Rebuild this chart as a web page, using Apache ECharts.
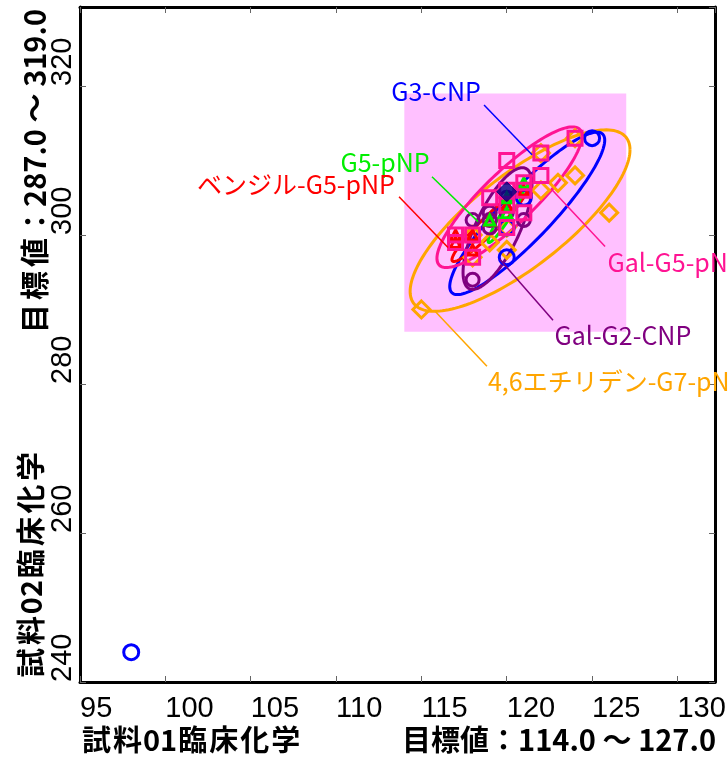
<!DOCTYPE html>
<html>
<head>
<meta charset="utf-8">
<script src="https://cdn.jsdelivr.net/npm/echarts@6/dist/echarts.min.js"></script>
<style>
  html, body { margin: 0; padding: 0; background: #ffffff; }
  #chart { width: 728px; height: 758px; }
</style>
</head>
<body>
<div id="chart"></div>
<script>
// ---- tick labels ----
const xTickValues = [95, 100, 105, 110, 115, 120, 125, 130];
const yTickValues = [240, 260, 280, 300, 320];

// ---- axis titles ----
const xTitleSample = '試料01臨床化学';
const xTitleTarget = '目標値：114.0 ～ 127.0';
const yTitleSample = '試料02臨床化学';
const yTitleTarget = '目標値：287.0 ～ 319.0';

// ---- target range (x from..to, y from..to) ----
const targetX = [114.0, 127.0];
const targetY = [287.0, 319.0];

// ---- reagent names ----
const reagentNames = ['G3-CNP', 'G5-pNP', 'ベンジル-G5-pNP', 'Gal-G5-pNP', 'Gal-G2-CNP', '4,6エチリデン-G7-pNP'];

// ---- measured pairs [sample 01, sample 02] per reagent ----
const g3cnpValues = [[125, 313], [120, 297], [120, 301], [121, 305], [98, 244]];
const g5pnpValues = [[121, 307], [120, 305], [120, 303], [119, 302]];
const benzylG5pnpValues = [[117, 300], [118, 300], [117, 299], [118, 298], [121, 306], [120, 304], [119, 302]];
const galG5pnpValues = [[124, 313], [122, 311], [120, 310], [122, 308], [121, 307], [121, 306], [120, 306],
  [119, 305], [121, 303], [120, 304], [120, 301], [117, 300], [117, 299], [118, 300], [118, 297]];
const galG2cnpValues = [[118, 294], [119, 303], [119, 302], [119, 301], [120, 303], [121, 302], [118, 302], [120, 305]];
const ethylideneG7pnpValues = [[115, 290], [126, 303], [124, 308], [123, 307], [122, 306], [119, 299], [118, 297],
  [120, 298], [124, 313], [122, 311], [118, 300], [120, 301]];
const overallMean = [[120, 305.8]];

// ---- distribution ellipses: [centre x, centre y, half-width x, half-height y, correlation] ----
const g3cnpEllipse = [121.2, 302.9, 4.54, 10.9, 0.90];
const g5pnpEllipse = [119.96, 302.73, 1.05, 3.75, 0.95];
const benzylG5pnpEllipse = [118.99, 301.39, 2.2, 4.95, 0.95];
const galG5pnpEllipse = [120.16, 305.07, 4.25, 9.44, 0.87];
const galG2cnpEllipse = [119.46, 300.86, 2.02, 8.17, 0.72];
const ethylideneG7pnpEllipse = [120.78, 301.93, 6.44, 12.18, 0.78];

// ---- styling per reagent ----
const reagentStyles = [
  { color: '#0000FF', symbol: 'circle', size: 15 },
  { color: '#00EE00', symbol: 'triangle', size: 10 },
  { color: '#FF0000', symbol: 'triangle', size: 10 },
  { color: '#FF1493', symbol: 'rect', size: 14 },
  { color: '#800080', symbol: 'circle', size: 13 },
  { color: '#FFA500', symbol: 'diamond', size: 17 }
];
const reagentValues = [g3cnpValues, g5pnpValues, benzylG5pnpValues, galG5pnpValues, galG2cnpValues, ethylideneG7pnpValues];
const reagentEllipses = [g3cnpEllipse, g5pnpEllipse, benzylG5pnpEllipse, galG5pnpEllipse, galG2cnpEllipse, ethylideneG7pnpEllipse];

// callout placement (in axis units): text anchor, alignment, leader line from -> to
const calloutLayout = [
  { text: [115.86, 319.3], align: 'center', from: [118.67, 317.46], to: [121.48, 310.76] },
  { text: [112.87, 309.7], align: 'center', from: [115.62, 307.82], to: [118.32, 301.79] },
  { text: [107.65, 306.75], align: 'center', from: [113.69, 305.14], to: [116.56, 298.31] },
  { text: [125.9, 296.3], align: 'left', from: [125.76, 298.45], to: [122.65, 306.08] },
  { text: [122.8, 286.5], align: 'left', from: [122.71, 288.54], to: [119.60, 296.71] },
  { text: [118.9, 280.4], align: 'left', from: [118.84, 282.38], to: [115.80, 289.75] }
];

const tickFont = 'Liberation Sans, Arial, sans-serif';
const jpFont = '"Noto Sans CJK JP", sans-serif';

// Builds a rich-text string where CJK characters get a little extra side padding
function spacedTitle(text) {
  let out = '';
  let run = '';
  for (const ch of text) {
    if (/[\u3000-\u9fff\uff00-\uffef]/.test(ch) && ch !== '：' && ch !== '～') {
      if (run) { out += '{n|' + run + '}'; run = ''; }
      out += '{w|' + ch + '}';
    } else {
      run += ch;
    }
  }
  if (run) out += '{n|' + run + '}';
  return out;
}

function titleRich(pad) {
  const f = 'bold 29px ' + jpFont;
  return {
    w: { font: f, fill: '#000', padding: [0, pad, 0, pad] },
    n: { font: f, fill: '#000' }
  };
}

function ellipseSeries(idx, z) {
  const color = reagentStyles[idx].color;
  return {
    type: 'custom',
    name: reagentNames[idx] + ' ellipse',
    coordinateSystem: 'cartesian2d',
    xAxisIndex: 0, yAxisIndex: 0,
    silent: true,
    z: z,
    data: [reagentEllipses[idx]],
    renderItem: function (params, api) {
      const cx = api.value(0), cy = api.value(1), hx = api.value(2), hy = api.value(3), r = api.value(4);
      const phi = Math.acos(r);
      const pts = [];
      const n = 160;
      for (let i = 0; i <= n; i++) {
        const t = (i / n) * Math.PI * 2;
        pts.push(api.coord([cx + hx * Math.cos(t), cy + hy * Math.cos(t - phi)]));
      }
      return {
        type: 'polyline',
        shape: { points: pts },
        style: { fill: 'none', stroke: color, lineWidth: 3 }
      };
    }
  };
}

function pointSeries(idx, z) {
  const st = reagentStyles[idx];
  return {
    type: 'scatter',
    name: reagentNames[idx],
    z: z,
    silent: true,
    symbol: st.symbol,
    symbolSize: st.size,
    itemStyle: { color: 'rgba(0,0,0,0)', borderColor: st.color, borderWidth: 3, opacity: 1 },
    data: reagentValues[idx]
  };
}

function calloutSeries(idx) {
  const st = reagentStyles[idx];
  const lay = calloutLayout[idx];
  return {
    type: 'custom',
    name: reagentNames[idx] + ' label',
    coordinateSystem: 'cartesian2d',
    silent: true,
    z: 20,
    clip: false,
    data: [[lay.text[0], lay.text[1], lay.from[0], lay.from[1], lay.to[0], lay.to[1]]],
    renderItem: function (params, api) {
      const tp = api.coord([api.value(0), api.value(1)]);
      const p1 = api.coord([api.value(2), api.value(3)]);
      const p2 = api.coord([api.value(4), api.value(5)]);
      return {
        type: 'group',
        children: [
          { type: 'line', shape: { x1: p1[0], y1: p1[1], x2: p2[0], y2: p2[1] },
            style: { stroke: st.color, lineWidth: 1.5 } },
          { type: 'text', x: tp[0], y: tp[1],
            style: { text: reagentNames[idx], fill: st.color, font: '25px ' + jpFont,
                     align: lay.align, verticalAlign: 'middle', textAlign: lay.align, textVerticalAlign: 'middle' } }
        ]
      };
    }
  };
}

const chart = echarts.init(document.getElementById('chart'), null, { renderer: 'canvas' });

const axisLineStyle = { show: true, onZero: false, lineStyle: { color: '#000', width: 3 } };
const tickStyle = { show: true, inside: true, length: 6, lineStyle: { color: '#666', width: 1 } };

const option = {
  backgroundColor: '#ffffff',
  animation: false,
  grid: { left: 80, right: 13, top: 7, bottom: 76, containLabel: false, outerBoundsMode: 'none' },
  xAxis: [
    {
      type: 'value', position: 'bottom', min: 95, max: 132.2, interval: 5,
      axisLine: axisLineStyle, axisTick: tickStyle, splitLine: { show: false },
      axisLabel: {
        show: true, margin: 12, align: 'left', verticalAlign: 'top',
        color: '#000', fontSize: 29, fontFamily: tickFont,
        showMaxLabel: false,
        formatter: function (v) { return xTickValues.indexOf(v) >= 0 ? String(v) : ''; }
      }
    },
    {
      type: 'value', position: 'top', min: 95, max: 132.2, interval: 5,
      axisLine: axisLineStyle, axisTick: tickStyle, splitLine: { show: false },
      axisLabel: { show: false }
    }
  ],
  yAxis: [
    {
      type: 'value', position: 'left', min: 240, max: 330.6, interval: 20,
      axisLine: axisLineStyle, axisTick: tickStyle, splitLine: { show: false },
      axisLabel: {
        show: true, rotate: 90, margin: 17, align: 'left', verticalAlign: 'middle',
        color: '#000', fontSize: 29, fontFamily: tickFont,
        showMaxLabel: false,
        formatter: function (v) { return yTickValues.indexOf(v) >= 0 ? String(v) : ''; }
      }
    },
    {
      type: 'value', position: 'right', min: 240, max: 330.6, interval: 20,
      axisLine: axisLineStyle, axisTick: tickStyle, splitLine: { show: false },
      axisLabel: { show: false }
    }
  ],
  graphic: [
    { type: 'text', x: 81, y: 740, silent: true,
      style: { text: spacedTitle(xTitleSample), rich: titleRich(1), font: 'bold 29px ' + jpFont, fill: '#000',
               align: 'left', verticalAlign: 'middle', textAlign: 'left', textVerticalAlign: 'middle' } },
    { type: 'text', x: 716, y: 740, silent: true,
      style: { text: xTitleTarget, font: 'bold 29px ' + jpFont, fill: '#000',
               align: 'right', verticalAlign: 'middle', textAlign: 'right', textVerticalAlign: 'middle' } },
    { type: 'text', x: 31, y: 679, rotation: Math.PI / 2, silent: true,
      style: { text: spacedTitle(yTitleSample), rich: titleRich(1.7), font: 'bold 29px ' + jpFont, fill: '#000',
               align: 'left', verticalAlign: 'middle', textAlign: 'left', textVerticalAlign: 'middle' } },
    { type: 'text', x: 35, y: 9, rotation: Math.PI / 2, silent: true,
      style: { text: spacedTitle(yTitleTarget), rich: titleRich(2), font: 'bold 29px ' + jpFont, fill: '#000',
               align: 'right', verticalAlign: 'middle', textAlign: 'right', textVerticalAlign: 'middle' } }
  ],
  series: [
    {
      type: 'custom', name: 'target range', coordinateSystem: 'cartesian2d', silent: true, z: 1,
      data: [[targetX[0], targetY[1], targetX[1], targetY[0]]],
      renderItem: function (params, api) {
        const a = api.coord([api.value(0), api.value(1)]);
        const b = api.coord([api.value(2), api.value(3)]);
        return { type: 'rect', shape: { x: a[0], y: a[1], width: b[0] - a[0], height: b[1] - a[1] },
                 style: { fill: '#FFC0FF' } };
      }
    },
    ellipseSeries(5, 3),
    ellipseSeries(0, 4),
    ellipseSeries(4, 5),
    ellipseSeries(2, 6),
    ellipseSeries(1, 6),
    ellipseSeries(3, 7),
    pointSeries(5, 8),
    pointSeries(0, 9),
    pointSeries(4, 10),
    pointSeries(2, 11),
    pointSeries(1, 11),
    pointSeries(3, 12),
    {
      type: 'scatter', name: 'mean', z: 13, silent: true,
      symbol: 'diamond', symbolSize: 20,
      itemStyle: { color: '#000080', borderColor: '#000080', borderWidth: 1 },
      data: overallMean
    },
    calloutSeries(0), calloutSeries(1), calloutSeries(2),
    calloutSeries(3), calloutSeries(4), calloutSeries(5)
  ]
};

chart.setOption(option);
</script>
</body>
</html>
